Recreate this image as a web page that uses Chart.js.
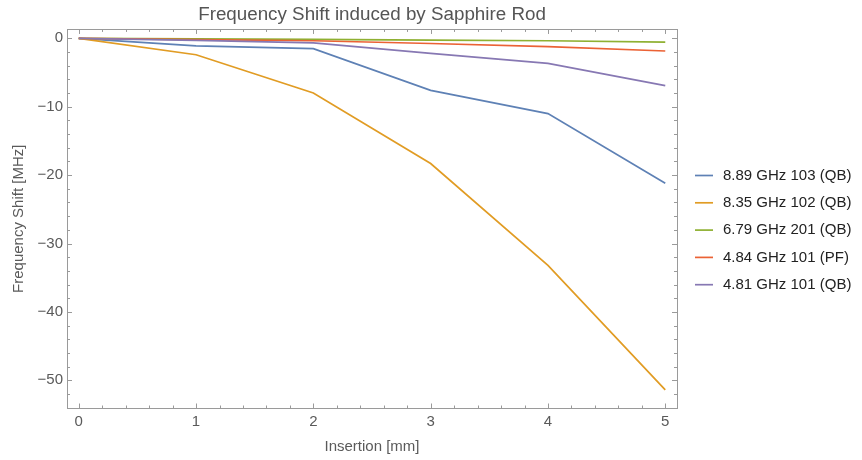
<!DOCTYPE html>
<html>
<head>
<meta charset="utf-8">
<script src="https://cdn.jsdelivr.net/npm/chart.js@4/dist/chart.umd.min.js"></script>
<style>
  html, body { margin: 0; padding: 0; background: #fff; }
  #wrap { width: 862px; height: 460px; position: relative; }
</style>
</head>
<body>
<div id="wrap"><canvas id="c" width="862" height="460"></canvas></div>
<script>
// Rod insertion depth (mm) and measured frequency shift (MHz) per mode
const insertion = [0, 1, 2, 3, 4, 5];
const shift889_103 = [0, -1.1, -1.5, -7.6, -11.0, -21.2];
const shift835_102 = [0, -2.4, -8.0, -18.3, -33.2, -51.4];
const shift679_201 = [0, -0.08, -0.15, -0.25, -0.35, -0.55];
const shift484_101 = [0, -0.2, -0.35, -0.75, -1.2, -1.85];
const shift481_101 = [0, -0.3, -0.65, -2.2, -3.65, -6.9];

const seriesLabels = [
  '8.89 GHz 103 (QB)',
  '8.35 GHz 102 (QB)',
  '6.79 GHz 201 (QB)',
  '4.84 GHz 101 (PF)',
  '4.81 GHz 101 (QB)'
];
const seriesColors = ['#5E81B5', '#E19C24', '#8FB032', '#EB6235', '#8778B3'];
const seriesValues = [shift889_103, shift835_102, shift679_201, shift484_101, shift481_101];

const xTicks = [0, 1, 2, 3, 4, 5];
const yTicks = [0, -10, -20, -30, -40, -50];
const xRange = [-0.1, 5.1];
const yRange = [-54.05, 1.3];

const FONT = '"Liberation Sans", Arial, Helvetica, sans-serif';
const frameColor = '#9a9a9a';
const labelColor = '#5a5a5a';

const datasets = seriesValues.map((vals, i) => ({
  label: seriesLabels[i],
  data: insertion.map((x, j) => ({ x: x, y: vals[j] })),
  borderColor: seriesColors[i],
  backgroundColor: seriesColors[i],
  borderWidth: 1.7,
  pointRadius: 0,
  tension: 0,
  fill: false,
  order: seriesValues.length - i
}));

// Frame around the plot with inward major/minor ticks on all four sides
const frameTicks = {
  id: 'frameTicks',
  afterDraw(chart) {
    const ctx = chart.ctx;
    const { left, right, top, bottom } = chart.chartArea;
    const xs = chart.scales.x, ys = chart.scales.y;
    ctx.save();
    ctx.strokeStyle = frameColor;
    ctx.lineWidth = 1;
    ctx.strokeRect(Math.round(left) + 0.5, Math.round(top) + 0.5,
                   Math.round(right - left), Math.round(bottom - top));
    const line = (x1, y1, x2, y2) => {
      ctx.beginPath(); ctx.moveTo(x1, y1); ctx.lineTo(x2, y2); ctx.stroke();
    };
    // x ticks: majors every 1, four minors between
    for (let k = 0; k <= 25; k++) {
      const v = k * 0.2;
      const px = Math.round(xs.getPixelForValue(v)) + 0.5;
      const len = (k % 5 === 0) ? 4.5 : 2.5;
      line(px, bottom, px, bottom - len);
      line(px, top, px, top + len);
    }
    // y ticks: majors every 10, four minors between
    for (let v = 0; v >= yRange[0]; v -= 2) {
      const py = Math.round(ys.getPixelForValue(v)) + 0.5;
      const len = (v % 10 === 0) ? 5 : 3;
      line(left, py, left + len, py);
      line(right, py, right - len, py);
    }
    ctx.restore();
  }
};

// Line-sample legend to the right of the plot
const sideLegend = {
  id: 'sideLegend',
  afterDraw(chart) {
    const ctx = chart.ctx;
    ctx.save();
    ctx.font = '15px ' + FONT;
    ctx.textBaseline = 'middle';
    ctx.textAlign = 'left';
    const y0 = 175.5, dy = 27.3;
    chart.data.datasets.forEach((ds, i) => {
      const y = y0 + i * dy;
      ctx.strokeStyle = ds.borderColor;
      ctx.lineWidth = 1.7;
      ctx.beginPath(); ctx.moveTo(695, y); ctx.lineTo(713, y); ctx.stroke();
      ctx.fillStyle = '#222';
      ctx.fillText(ds.label, 723, y);
    });
    ctx.restore();
  }
};

const minus = v => (v < 0 ? '\u2212' + Math.abs(v) : String(v));

new Chart(document.getElementById('c'), {
  type: 'line',
  data: { datasets: datasets },
  options: {
    responsive: false,
    animation: false,
    devicePixelRatio: 1,
    layout: { padding: { left: 0, right: 185, top: 0, bottom: 0 } },
    plugins: {
      legend: { display: false },
      tooltip: { enabled: false },
      title: {
        display: true,
        fullSize: false,
        text: 'Frequency Shift induced by Sapphire Rod',
        color: '#555',
        font: { family: FONT, size: 18.8, weight: 'normal', lineHeight: 1.2 },
        padding: { top: 3.6, bottom: 3.3 }
      }
    },
    scales: {
      x: {
        type: 'linear',
        min: xRange[0],
        max: xRange[1],
        grid: { display: false, drawTicks: false },
        border: { display: false },
        ticks: { color: labelColor, font: { family: FONT, size: 15 }, padding: 4.5, callback: minus },
        afterBuildTicks: s => { s.ticks = xTicks.map(v => ({ value: v })); },
        afterFit: s => { s.height = 52; },
        title: {
          display: true, text: 'Insertion [mm]', color: labelColor,
          font: { family: FONT, size: 15 }, padding: { top: 0, bottom: 4 }
        }
      },
      y: {
        type: 'linear',
        min: yRange[0],
        max: yRange[1],
        grid: { display: false, drawTicks: false },
        border: { display: false },
        ticks: { color: labelColor, font: { family: FONT, size: 15 }, padding: 4, callback: minus },
        afterBuildTicks: s => { s.ticks = yTicks.map(v => ({ value: v })); },
        afterFit: s => { s.width = 67; },
        title: {
          display: true, text: 'Frequency Shift [MHz]', color: labelColor,
          font: { family: FONT, size: 15 }, padding: { top: 10, bottom: 0 }
        }
      }
    }
  },
  plugins: [frameTicks, sideLegend]
});
</script>
</body>
</html>
